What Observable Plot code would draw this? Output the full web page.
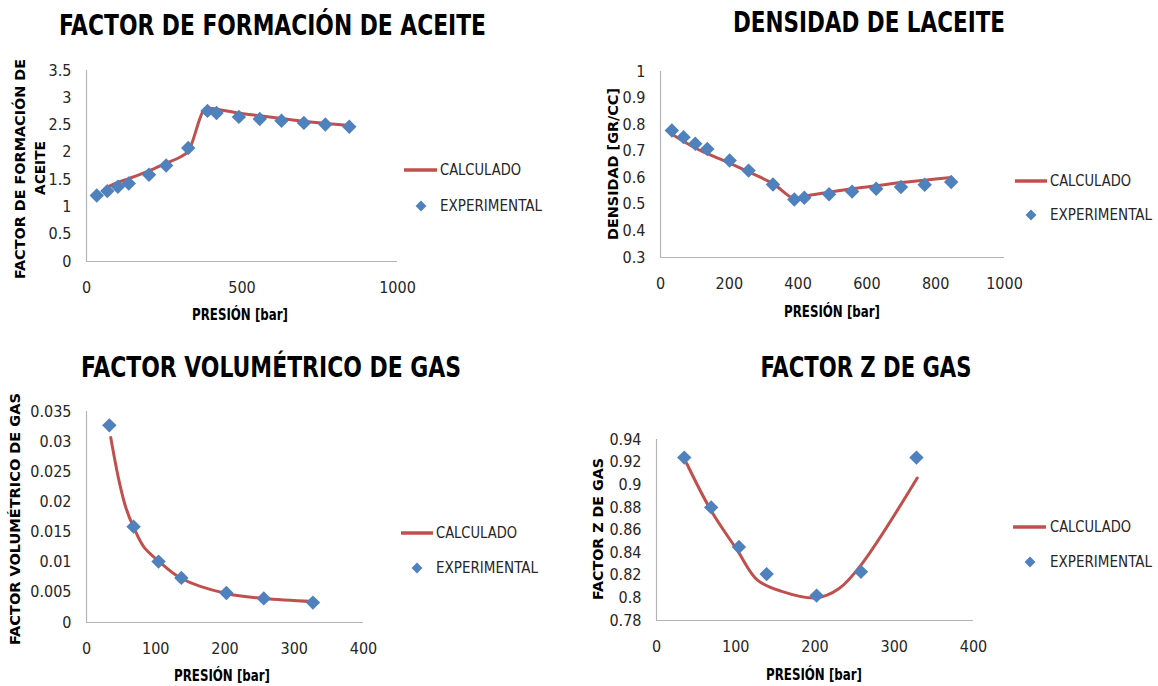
<!DOCTYPE html>
<html>
<head>
<meta charset="utf-8">
<script src="https://cdn.jsdelivr.net/npm/d3@7"></script>
<script src="https://cdn.jsdelivr.net/npm/@observablehq/plot@0.6"></script>
<style>
  html, body { margin: 0; padding: 0; background: #ffffff; }
  #page { position: relative; width: 1158px; height: 686px; overflow: hidden; background: #fff; }
  #page > svg { position: absolute; }
</style>
</head>
<body>
<div id="page"></div>
<script>
// ---------- DATA ----------
const presionAceite = [33, 67, 101, 136, 201, 256, 327, 389, 418, 490, 557, 627, 699, 768, 845];
const boExperimental = [1.21, 1.29, 1.37, 1.43, 1.59, 1.76, 2.08, 2.76, 2.72, 2.65, 2.61, 2.58, 2.54, 2.51, 2.47];
const boCalcPresion = [66, 101, 136, 201, 256, 300, 327, 378, 396, 418, 490, 557, 627, 699, 768, 845];
const boCalculado = [1.36, 1.45, 1.52, 1.66, 1.80, 1.91, 2.02, 2.78, 2.81, 2.79, 2.72, 2.67, 2.62, 2.57, 2.53, 2.49];

const rhoExperimental = [0.778, 0.753, 0.728, 0.708, 0.665, 0.627, 0.575, 0.518, 0.525, 0.538, 0.548, 0.559, 0.565, 0.574, 0.584];
const rhoCalcPresion = [38, 101, 136, 201, 256, 327, 389, 418, 490, 557, 627, 699, 768, 845];
const rhoCalculado = [0.760, 0.712, 0.691, 0.655, 0.622, 0.578, 0.521, 0.531, 0.546, 0.559, 0.570, 0.582, 0.591, 0.601];

const presionGas = [33, 68, 104, 137, 202, 256, 327];
const bgExperimental = [0.0327, 0.0159, 0.0101, 0.0074, 0.0049, 0.0040, 0.0033];
const bgCalcPresion = [35, 47, 57, 68, 83, 104, 137, 202, 256, 327];
const bgCalculado = [0.0307, 0.0235, 0.0190, 0.0158, 0.0125, 0.0102, 0.0073, 0.0048, 0.0040, 0.0035];

const presionZ = [35, 69, 104, 139, 202, 258, 328];
const zExperimental = [0.924, 0.880, 0.845, 0.821, 0.802, 0.823, 0.924];
const zCalcPresion = [38, 69, 102, 127, 157, 202, 230, 258, 329];
const zCalculado = [0.919, 0.877, 0.842, 0.816, 0.806, 0.800, 0.808, 0.829, 0.906];

// tick labels
const xTicksAceite = [0, 500, 1000];
const yTicksBo = [0, 0.5, 1, 1.5, 2, 2.5, 3, 3.5];
const xTicksDens = [0, 200, 400, 600, 800, 1000];
const yTicksDens = [0.3, 0.4, 0.5, 0.6, 0.7, 0.8, 0.9, 1];
const xTicksGas = [0, 100, 200, 300, 400];
const yTicksBg = [0, 0.005, 0.01, 0.015, 0.02, 0.025, 0.03, 0.035];
const yTicksZ = [0.78, 0.8, 0.82, 0.84, 0.86, 0.88, 0.9, 0.92, 0.94];

const serieCalc = "CALCULADO";
const serieExp = "EXPERIMENTAL";
const titulos = ["FACTOR DE FORMACIÓN DE ACEITE", "DENSIDAD DE LACEITE", "FACTOR VOLUMÉTRICO DE GAS", "FACTOR Z DE GAS"];
const ejeX = "PRESIÓN [bar]";

// ---------- STYLE ----------
const FONT = "'Liberation Sans Narrow', 'Arial Narrow', 'DejaVu Sans Condensed', 'Liberation Sans', sans-serif";
const RED = "#c0504d";
const BLUE = "#4f81bd";
const AXIS = "#b4b4b4";

const page = document.getElementById("page");

function zip(xs, ys) { return xs.map((x, i) => ({x, y: ys[i]})); }

function panel(cfg) {
  const {left, top, width, height, frame} = cfg;
  const calc = zip(cfg.calcX, cfg.calcY);
  const exp = zip(cfg.expX, cfg.expY);
  const svg = Plot.plot({
    width, height,
    marginLeft: frame.l - left,
    marginRight: left + width - frame.r,
    marginTop: frame.t - top,
    marginBottom: top + height - frame.b,
    style: {fontFamily: FONT, fontSize: "16px", color: "#262626", background: "transparent", overflow: "visible"},
    x: {domain: cfg.xDomain, label: null},
    y: {domain: cfg.yDomain, label: null},
    marks: [
      Plot.ruleX([cfg.xDomain[0]], {stroke: AXIS, strokeWidth: 1.2}),
      Plot.ruleY([cfg.yDomain[0]], {stroke: AXIS, strokeWidth: 1.2}),
      Plot.axisX({ticks: cfg.xTicks, tickSize: 0, tickPadding: 20, tickFormat: d => String(d), fontSize: 16, label: null}),
      Plot.axisY({ticks: cfg.yTicks, tickSize: 0, tickPadding: 15, tickFormat: d => String(d), fontSize: 16, label: null}),
      Plot.line(calc, {x: "x", y: "y", curve: "catmull-rom", stroke: RED, strokeWidth: 3}),
      Plot.dot(exp, {x: "x", y: "y", symbol: "diamond2", r: 6.5, fill: BLUE, stroke: "none"})
    ]
  });
  svg.style.left = left + "px";
  svg.style.top = top + "px";
  page.appendChild(svg);
}

panel({left: 0, top: 40, width: 579, height: 260, frame: {l: 86, r: 397, t: 70, b: 261},
  xDomain: [0, 1000], yDomain: [0, 3.5], xTicks: xTicksAceite, yTicks: yTicksBo,
  calcX: boCalcPresion, calcY: boCalculado, expX: presionAceite, expY: boExperimental});
panel({left: 579, top: 40, width: 579, height: 260, frame: {l: 660, r: 1004, t: 71, b: 257},
  xDomain: [0, 1000], yDomain: [0.3, 1], xTicks: xTicksDens, yTicks: yTicksDens,
  calcX: rhoCalcPresion, calcY: rhoCalculado, expX: presionAceite, expY: rhoExperimental});
panel({left: 0, top: 390, width: 579, height: 270, frame: {l: 86, r: 363, t: 411, b: 622},
  xDomain: [0, 400], yDomain: [0, 0.035], xTicks: xTicksGas, yTicks: yTicksBg,
  calcX: bgCalcPresion, calcY: bgCalculado, expX: presionGas, expY: bgExperimental});
panel({left: 579, top: 390, width: 579, height: 270, frame: {l: 656, r: 973, t: 439, b: 620},
  xDomain: [0, 400], yDomain: [0.78, 0.94], xTicks: xTicksGas, yTicks: yTicksZ,
  calcX: zCalcPresion, calcY: zCalculado, expX: presionZ, expY: zExperimental});

// ---------- OVERLAY: titles, axis titles, legends ----------
const ov = d3.create("svg").attr("width", 1158).attr("height", 686)
  .style("left", "0px").style("top", "0px").style("pointer-events", "none")
  .style("font-family", FONT);

function txt(s, cx, cy, o) {
  const size = o.size, cap = 0.36 * size;
  const g = ov.append("g").attr("transform", `translate(${cx},${cy}) rotate(${o.rotate || 0})`);
  const t = g.append("text").text(s)
    .attr("x", 0).attr("y", cap)
    .attr("font-size", size)
    .attr("font-weight", o.weight || "normal")
    .attr("fill", o.fill || "#000")
    .attr("text-anchor", o.anchor || "middle");
  if (o.len) t.attr("textLength", o.len).attr("lengthAdjust", "spacingAndGlyphs");
  return t;
}

// titles
txt(titulos[0], 272.5, 25, {size: 28, weight: "bold", len: 427});
txt(titulos[1], 869, 22, {size: 28, weight: "bold", len: 272});
txt(titulos[2], 271, 366.5, {size: 28, weight: "bold", len: 380});
txt(titulos[3], 866, 366.5, {size: 28, weight: "bold", len: 211});

// x axis titles
txt(ejeX, 240, 314, {size: 16, weight: "bold", len: 96});
txt(ejeX, 832, 311, {size: 16, weight: "bold", len: 96});
txt(ejeX, 222, 675, {size: 16, weight: "bold", len: 96});
txt(ejeX, 814, 674, {size: 16, weight: "bold", len: 96});

// y axis titles
txt("FACTOR DE FORMACIÓN DE", 20, 169, {size: 14, weight: "bold", rotate: -90, len: 220});
txt("ACEITE", 39.5, 168, {size: 14, weight: "bold", rotate: -90, len: 54});
txt("DENSIDAD [GR/CC]", 613, 164, {size: 14, weight: "bold", rotate: -90, len: 152});
txt("FACTOR VOLUMÉTRICO DE GAS", 15, 519, {size: 14, weight: "bold", rotate: -90, len: 252});
txt("FACTOR Z DE GAS", 598, 529, {size: 14, weight: "bold", rotate: -90, len: 142});

// legends
const diamond = d3.symbol(d3.symbolDiamond2, 75)();
function legend(lx1, lx2, ly, dx, dy, tx) {
  ov.append("line").attr("x1", lx1).attr("x2", lx2).attr("y1", ly).attr("y2", ly)
    .attr("stroke", RED).attr("stroke-width", 3.5);
  txt(serieCalc, tx, ly, {size: 15, anchor: "start", fill: "#262626", len: 81});
  ov.append("path").attr("d", diamond).attr("transform", `translate(${dx},${dy})`).attr("fill", BLUE);
  txt(serieExp, tx, dy, {size: 15, anchor: "start", fill: "#262626", len: 102});
}
legend(404, 437, 170, 421, 206, 440);
legend(1015, 1047, 181, 1031, 215, 1050);
legend(401, 433, 533, 417, 568, 436);
legend(1013, 1046, 527, 1030, 562, 1050);

page.appendChild(ov.node());
</script>
</body>
</html>
